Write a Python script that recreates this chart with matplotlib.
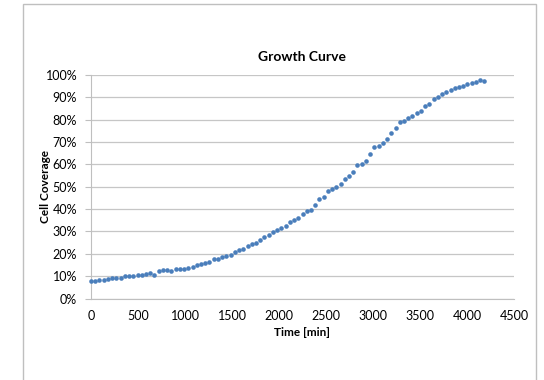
import matplotlib.pyplot as plt
from matplotlib.patches import Rectangle
from matplotlib.ticker import PercentFormatter

# time in minutes, sampled every 45 min
time_min = [i * 45 for i in range(94)]
coverage = [
    8.0, 8.0, 8.1, 8.4, 8.8, 9.0, 9.3, 9.0, 9.9, 10.2,
    10.2, 10.3, 10.6, 11.0, 11.2, 10.6, 12.2, 12.6, 12.7, 12.5,
    13.2, 13.0, 13.2, 13.6, 14.3, 15.2, 15.6, 16.0, 16.5, 17.5,
    17.6, 18.4, 19.2, 19.4, 20.6, 21.5, 22.2, 23.6, 24.6, 25.0,
    26.0, 27.3, 28.2, 29.6, 30.5, 31.5, 32.5, 34.2, 35.3, 36.2,
    38.0, 39.0, 39.8, 41.8, 44.4, 45.6, 48.0, 48.8, 50.0, 51.3,
    53.6, 55.0, 56.5, 59.8, 60.0, 61.7, 64.7, 68.0, 68.4, 69.5,
    71.4, 74.0, 76.3, 78.8, 79.5, 80.6, 81.8, 82.9, 84.0, 86.0,
    87.2, 89.3, 90.3, 91.3, 92.2, 93.3, 94.2, 94.6, 95.2, 96.0,
    96.4, 96.9, 97.8, 97.5,
]
x_ticks = [0, 500, 1000, 1500, 2000, 2500, 3000, 3500, 4000, 4500]
y_ticks = [0, 10, 20, 30, 40, 50, 60, 70, 80, 90, 100]

plt.rcParams['font.family'] = ['Lato', 'DejaVu Sans']

fig = plt.figure(figsize=(5.44, 3.80), dpi=100)
fig.patches.append(Rectangle((23 / 544, -0.01), 513 / 544, 1 - 4 / 380 + 0.01,
                             transform=fig.transFigure, fill=False,
                             edgecolor='#bfbfbf', linewidth=1.0))

ax = fig.add_axes([91 / 544, 1 - 298.5 / 380, 423 / 544, 223.5 / 380])
ax.plot(time_min, coverage, 'o', color='#4a7ebb', markersize=3.3,
        markeredgewidth=0, clip_on=False, zorder=3)

ax.set_xlim(0, 4500)
ax.set_ylim(0, 100)
ax.set_xticks(x_ticks)
ax.set_yticks(y_ticks)
ax.yaxis.set_major_formatter(PercentFormatter(decimals=0))
ax.grid(axis='y', color='#c6c6c6', linewidth=0.9)
ax.set_axisbelow(True)

for s in ['top', 'right']:
    ax.spines[s].set_visible(False)
ax.spines['left'].set_color('#bfbfbf')
ax.spines['bottom'].set_color('#bfbfbf')
ax.tick_params(axis='y', length=4, color='#bfbfbf', labelsize=9, pad=6)
ax.tick_params(axis='x', length=0, labelsize=9, pad=8)

ax.set_title('Growth Curve', fontsize=10, fontweight='bold', pad=10)
ax.set_xlabel('Time [min]', fontsize=8.5, fontweight='bold', labelpad=4)
ax.set_ylabel('Cell Coverage', fontsize=8.5, fontweight='bold')
ax.yaxis.set_label_coords(-0.094, 0.5)

fig.savefig('out.png', dpi=100)
